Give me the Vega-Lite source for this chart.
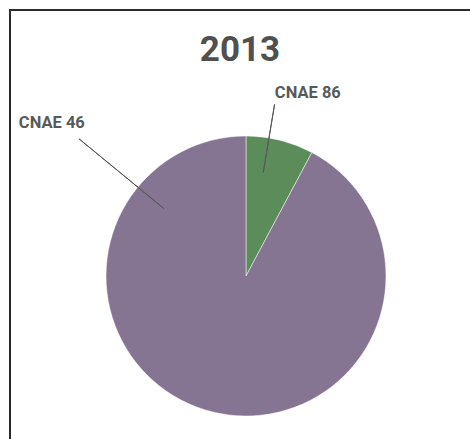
{
  "$schema": "https://vega.github.io/schema/vega-lite/v6.json",
  "autosize": "none",
  "padding": {"left": 10, "top": 10, "right": 0, "bottom": 0},
  "width": 472,
  "height": 532,
  "background": "white",
  "title": {
    "text": "2013",
    "font": "Roboto",
    "fontSize": 35,
    "fontWeight": "bold",
    "color": "#505050",
    "anchor": "middle",
    "frame": "group",
    "baseline": "alphabetic",
    "offset": -87,
    "dx": -6
  },
  "data": {
    "values": [
      {"category": "CNAE 86", "share": 7.8},
      {"category": "CNAE 46", "share": 92.2}
    ]
  },
  "encoding": {
    "theta": {"field": "share", "type": "quantitative", "stack": true},
    "order": {"field": "share", "type": "quantitative", "sort": "ascending"}
  },
  "layer": [
    {
      "mark": {"type": "rect", "fill": null, "stroke": "#2b2b2b", "strokeWidth": 2},
      "encoding": {
        "strokeOpacity": {"condition": {"test": "datum.category === 'CNAE 46'", "value": 1}, "value": 0}
      }
    },
    {
      "mark": {"type": "arc", "outerRadius": 140, "stroke": "#ffffff", "strokeWidth": 0.5},
      "encoding": {
        "color": {
          "field": "category",
          "type": "nominal",
          "scale": {"domain": ["CNAE 86", "CNAE 46"], "range": ["#5b8c5a", "#857492"]},
          "legend": null
        }
      }
    },
    {
      "mark": {"type": "arc", "outerRadius": 174, "innerRadius": 105, "thetaOffset": -0.080, "padAngle": 3.1416, "stroke": "#595959", "strokeWidth": 1, "fill": null},
      "encoding": {
        "strokeOpacity": {"condition": {"test": "datum.category === 'CNAE 86'", "value": 1}, "value": 0}
      }
    },
    {
      "mark": {"type": "arc", "outerRadius": 216, "innerRadius": 106, "thetaOffset": 5.155, "padAngle": 3.1416, "stroke": "#595959", "strokeWidth": 1, "fill": null},
      "encoding": {
        "strokeOpacity": {"condition": {"test": "datum.category === 'CNAE 86'", "value": 1}, "value": 0}
      }
    },
    {
      "mark": {"type": "text", "radius": 193, "thetaOffset": 0.081, "font": "Roboto", "fontSize": 16.5, "fontWeight": "bold", "fill": "#595959", "align": "center", "baseline": "middle"},
      "encoding": {
        "text": {"condition": {"test": "datum.category === 'CNAE 86'", "field": "category"}, "value": ""}
      }
    },
    {
      "mark": {"type": "text", "radius": 247, "thetaOffset": 1.992, "font": "Roboto", "fontSize": 16.5, "fontWeight": "bold", "fill": "#595959", "align": "center", "baseline": "middle"},
      "encoding": {
        "text": {"condition": {"test": "datum.category === 'CNAE 46'", "field": "category"}, "value": ""}
      }
    }
  ]
}
